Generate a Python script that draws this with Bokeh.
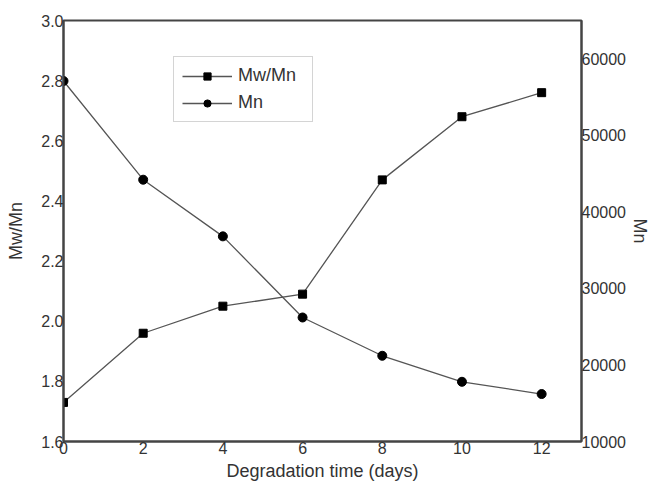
from bokeh.plotting import figure
from bokeh.models import Range1d, LinearAxis, FixedTicker, NumeralTickFormatter, Legend, LegendItem
from bokeh.embed import file_html
from bokeh.resources import INLINE

days = [0, 2, 4, 6, 8, 10, 12]
mw_mn = [1.73, 1.96, 2.05, 2.09, 2.47, 2.68, 2.76]
mn = [57100, 44200, 36800, 26200, 21200, 17800, 16200]
x_ticks = [0, 2, 4, 6, 8, 10, 12]
left_ticks = [1.6, 1.8, 2.0, 2.2, 2.4, 2.6, 2.8, 3.0]
right_ticks = [10000, 20000, 30000, 40000, 50000, 60000]

FONT = "Liberation Sans"
AX = "#444444"
TXT = "#333333"

p = figure(width=652, height=484, output_backend="svg", toolbar_location=None,
           x_range=Range1d(0, 13), y_range=Range1d(1.6, 3.0),
           min_border_left=63, min_border_right=69, min_border_top=20, min_border_bottom=43)
p.extra_y_ranges = {"mn": Range1d(10000, 65000)}
p.grid.visible = False
p.outline_line_color = AX
p.outline_line_width = 2
p.outline_line_alpha = 1

l1 = p.line(days, mw_mn, line_color="#555555", line_width=1.3)
m1 = p.scatter(days, mw_mn, marker="square", size=8, fill_color="black", line_color="black")
l2 = p.line(days, mn, line_color="#555555", line_width=1.3, y_range_name="mn")
m2 = p.scatter(days, mn, marker="circle", size=9, fill_color="black", line_color="black", y_range_name="mn")

raxis = LinearAxis(y_range_name="mn")
p.add_layout(raxis, "right")

p.xaxis.ticker = FixedTicker(ticks=x_ticks)
p.yaxis[0].ticker = FixedTicker(ticks=left_ticks)
p.yaxis[0].formatter = NumeralTickFormatter(format="0.0")
raxis.ticker = FixedTicker(ticks=right_ticks)
raxis.formatter = NumeralTickFormatter(format="0")

p.xaxis.axis_label = "Degradation time (days)"
p.yaxis[0].axis_label = "Mw/Mn"
raxis.axis_label = "Mn"

for ax in [p.xaxis[0], p.yaxis[0], raxis]:
    ax.axis_line_color = AX
    ax.axis_line_width = 2
    ax.major_tick_out = 0
    ax.major_tick_in = 0
    ax.minor_tick_out = 0
    ax.minor_tick_in = 0
    ax.major_label_text_font = FONT
    ax.major_label_text_font_size = "16px"
    ax.major_label_text_color = TXT
    ax.major_label_standoff = 0
    ax.axis_label_text_font = FONT
    ax.axis_label_text_font_size = "18px"
    ax.axis_label_text_font_style = "normal"
    ax.axis_label_text_color = TXT
    ax.axis_label_standoff = 1

p.yaxis[0].axis_label_standoff = 12
p.xaxis[0].axis_label_standoff = 4

legend = Legend(items=[LegendItem(label="Mw/Mn", renderers=[l1, m1]),
                       LegendItem(label="Mn", renderers=[l2, m2])],
                location=(110, 319))
legend.margin = 0
legend.padding = 8
legend.spacing = 6
legend.glyph_width = 50
legend.glyph_height = 18
legend.label_height = 18
legend.label_width = 66
legend.label_standoff = 6
legend.label_text_font = FONT
legend.label_text_font_size = "18px"
legend.label_text_color = TXT
legend.border_line_color = "#aaaaaa"
legend.border_line_width = 1.5
legend.background_fill_alpha = 1
p.add_layout(legend, "center")

open("out.html", "w").write(file_html(p, INLINE))
